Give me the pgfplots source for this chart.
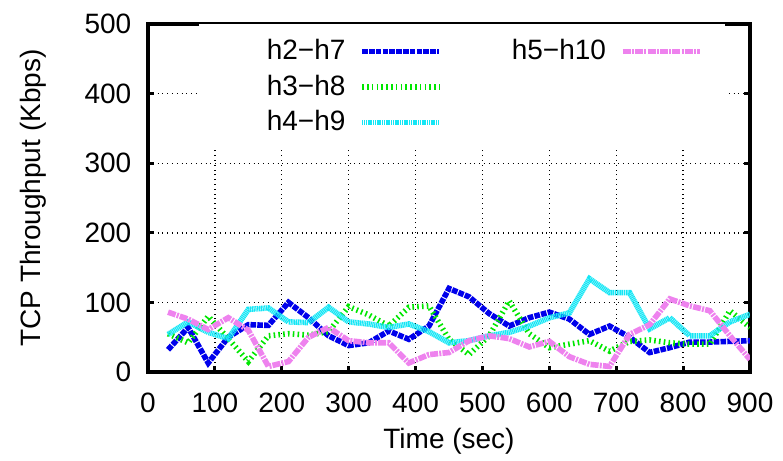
\documentclass[border=0pt]{standalone}
\usepackage{fontspec}
\setmainfont{Liberation Sans}
\usepackage{pgfplots}
\usepackage{pgfplotstable}
\pgfplotsset{compat=1.18}

\definecolor{cBlue}{RGB}{0,0,235}
\definecolor{cGreen}{RGB}{0,230,0}
\definecolor{cCyan}{RGB}{20,230,245}
\definecolor{cViolet}{RGB}{238,130,238}

\pgfplotsset{
  s27/.style={cBlue, line width=2.8pt, dash pattern=on 2.8pt off 0.6pt},
  s38/.style={cGreen, line width=2.8pt, dash pattern=on 0.8pt off 1.6pt},
  s49/.style={cCyan, line width=2.8pt, dash pattern=on 0.6pt off 0.3pt},
  s510/.style={cViolet, line width=2.8pt, dash pattern=on 4pt off 0.6pt on 1pt off 0.6pt},
}

% throughput (Kbps) per flow, sampled every 30 s
\pgfplotstableread{
t   h27 h38 h49 h510
30  32  55  54  86
60  64  42  72  76
90  13  80  57  61
120 50  48  48  78
150 68  15  90  60
180 67  52  92  8
210 100 55  72  15
240 78  53  71  50
270 52  58  93  64
300 38  94  72  45
330 42  82  69  42
360 59  66  64  42
390 47  93  69  13
420 66  95  58  25
450 120 47  42  28
480 108 25  45  45
510 84  52  52  52
540 66  102 57  48
570 78  55  66  36
600 86  35  78  44
630 76  40  85  22
660 54  45  134 11
690 66  30  114 8
720 50  44  114 54
750 28  46  62  68
780 35  42  78  105
810 43  40  52  95
840 43  40  52  88
870 44  88  72  52
900 45  64  83  18
}\tput

\begin{document}
\fontsize{14}{17}\selectfont
\begin{tikzpicture}
\useasboundingbox (-74pt,-44.5pt) rectangle (317.5pt,186pt);
\begin{axis}[
  at={(0,0)}, anchor=south west,
  scale only axis, width=301pt, height=174pt,
  xmin=0, xmax=900, ymin=0, ymax=500,
  xtick={0,100,...,900}, ytick={0,100,...,500},
  grid=major, grid style={black, dotted, line width=0.7pt},
  axis line style={line width=1.6pt},
  tick align=inside, major tick length=3pt,
  tick style={black, line width=1.6pt},
  /pgf/number format/assume math mode=true,
  xlabel={Time (sec)}, ylabel={TCP Throughput (Kbps)},
  every axis x label/.style={at={(axis description cs:0.5,-0.2)}, anchor=center},
  every axis y label/.style={at={(axis description cs:-0.19,0.5)}, anchor=center, rotate=90},
  xticklabel style={yshift=-5.5pt},
  yticklabel style={xshift=-3.5pt},
  legend columns=2,
  legend plot pos=right,
  legend image code/.code={\draw[#1] (0pt,0pt) -- (38.5pt,0pt);},
  legend style={draw=none, fill=white, at={(0.9585,1)}, anchor=north east,
    inner xsep=11pt, inner ysep=5.5pt, row sep=1.5pt,
    /tikz/every odd column/.append style={column sep=5pt},
    /tikz/every even column/.append style={column sep=20pt}},
]
\addlegendimage{s27}\addlegendentry{\makebox[60pt][r]{h2−h7}}
\addlegendimage{s510}\addlegendentry{\makebox[60pt][r]{h5−h10}}
\addlegendimage{s38}\addlegendentry{\makebox[60pt][r]{h3−h8}}
\addlegendimage{empty legend}\addlegendentry{}
\addlegendimage{s49}\addlegendentry{\makebox[60pt][r]{h4−h9}}

\addplot[s27, forget plot] table[x=t, y=h27] {\tput};
\addplot[s38, forget plot] table[x=t, y=h38] {\tput};
\addplot[s49, forget plot] table[x=t, y=h49] {\tput};
\addplot[s510, forget plot] table[x=t, y=h510] {\tput};
\end{axis}
\end{tikzpicture}
\end{document}
